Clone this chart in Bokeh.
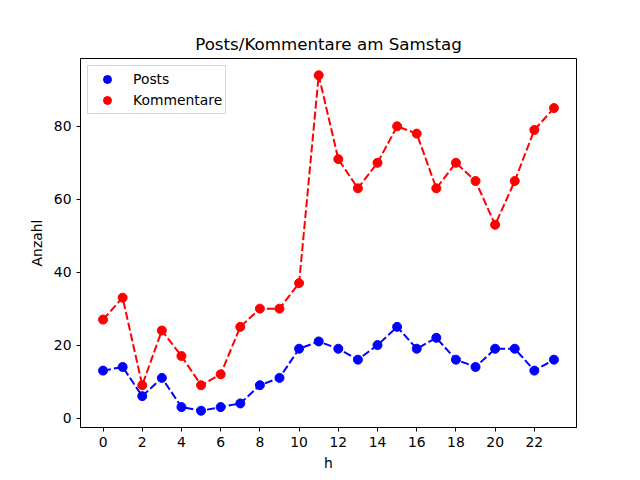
from bokeh.plotting import figure
from bokeh.models import Range1d, FixedTicker, Legend, LegendItem
from bokeh.embed import file_html
from bokeh.resources import INLINE

hours = list(range(24))
posts = [13, 14, 6, 11, 3, 2, 3, 4, 9, 11, 19, 21, 19, 16, 20, 25, 19, 22, 16, 14, 19, 19, 13, 16]
kommentare = [27, 33, 9, 24, 17, 9, 12, 25, 30, 30, 37, 94, 71, 63, 70, 80, 78, 63, 70, 65, 53, 65, 79, 85]
x_ticks = list(range(0, 24, 2))
y_ticks = [0, 20, 40, 60, 80]

FONT = "DejaVu Sans"

p = figure(width=640, height=480, output_backend="svg", toolbar_location=None,
           x_range=Range1d(-1.15, 24.15), y_range=Range1d(-2.6, 98.6),
           min_border_left=80, min_border_right=64, min_border_top=58, min_border_bottom=53,
           title="Posts/Kommentare am Samstag")

p.title.align = "center"
p.title.text_font = FONT
p.title.text_font_size = "16.7px"
p.title.text_font_style = "normal"
p.title.text_color = "black"
p.title.offset = 0

p.grid.visible = False
p.outline_line_color = "black"
p.outline_line_width = 1
p.background_fill_color = "white"
p.border_fill_color = "white"

for ax in (p.xaxis[0], p.yaxis[0]):
    ax.major_label_text_font = FONT
    ax.major_label_text_font_size = "13.9px"
    ax.major_label_text_color = "black"
    ax.axis_label_text_font = FONT
    ax.axis_label_text_font_size = "13.9px"
    ax.axis_label_text_font_style = "normal"
    ax.axis_label_text_color = "black"
    ax.minor_tick_line_color = None
    ax.major_tick_out = 4
    ax.major_tick_in = 0
    ax.major_tick_line_color = "black"
    ax.axis_line_color = "black"

p.xaxis.ticker = FixedTicker(ticks=x_ticks)
p.yaxis.ticker = FixedTicker(ticks=y_ticks)
p.xaxis.axis_label = "h"
p.yaxis.axis_label = "Anzahl"
p.xaxis.axis_label_standoff = 5
p.yaxis.axis_label_standoff = 6

p.line(hours, posts, line_color="blue", line_width=2, line_dash="8 3")
p.line(hours, kommentare, line_color="red", line_width=2, line_dash="8 3")
r1 = p.scatter(hours, posts, size=9, fill_color="blue", line_color="blue")
r2 = p.scatter(hours, kommentare, size=9, fill_color="red", line_color="red")

legend = Legend(items=[LegendItem(label="Posts", renderers=[r1]),
                       LegendItem(label="Kommentare", renderers=[r2])],
                location="top_left")
legend.label_text_font = FONT
legend.label_text_font_size = "13.9px"
legend.label_text_color = "black"
legend.border_line_color = "#cccccc"
legend.border_line_alpha = 0.8
legend.margin = 7
legend.padding = 3
legend.spacing = 1
legend.label_height = 20
legend.glyph_height = 20
legend.glyph_width = 32
legend.label_standoff = 10
p.add_layout(legend)

open("out.html", "w").write(file_html(p, INLINE))
